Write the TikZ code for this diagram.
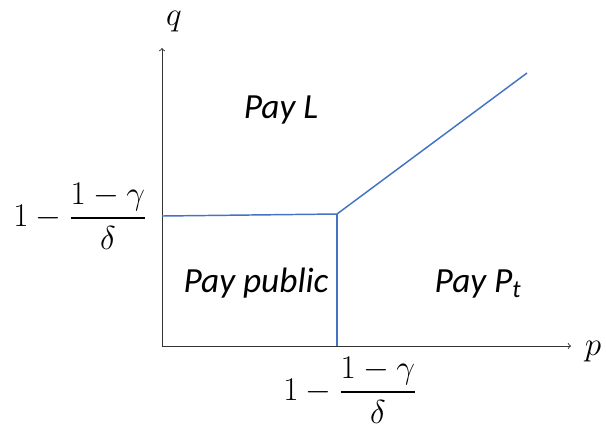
\documentclass[tikz,border=0pt]{standalone}
\usepackage{amsmath, amssymb}
\usepackage{fontspec}
\setmainfont{Carlito}
\usepackage{tikz}
\usetikzlibrary{calc, positioning}
\definecolor{lineblue}{HTML}{4472C4}
\tikzset{
  axis/.style={draw=black!80, line width=0.7pt, -to},
  border/.style={draw=lineblue, line width=1.1pt},
  region/.style={font=\fontsize{26.5}{30}\selectfont\itshape, inner sep=0pt},
  mlabel/.style={font=\fontsize{29}{33}\selectfont, inner sep=0pt}
}
\begin{document}
\begin{tikzpicture}[x=0.75pt, y=-0.75pt]
                \useasboundingbox (0,0) rectangle (606,430);
                % axes
                \coordinate (O) at (162,346);
                \coordinate (Qtop) at (162,48);
                \coordinate (Pend) at (571,346);
                \draw[axis] (O) -- (Qtop);
                \draw[axis] (O) -- (Pend);
                \node[mlabel] (q) at (174,22) {$q$};
                \node[mlabel] (p) at (593,352) {$p$};
                % boundaries
                \coordinate (A) at (162,216);
                \coordinate (K) at (337,214);
                \coordinate (B) at (337,346);
                \coordinate (E) at (527,73);
                \draw[border] (A) -- (K) -- (E);
                \draw[border] (K) -- (B);
                % threshold labels
                \node[mlabel] (qbar) at (80,216) {$1-\dfrac{1-\gamma}{\delta}$};
                \node[mlabel] (pbar) at (350,390) {$1-\dfrac{1-\gamma}{\delta}$};
                % regions
                \node[region] (payL) at (281,110) {Pay L};
                \node[region] (paypub) at (256,283) {Pay public};
                \node[region] (payP) at (478,284) {Pay P\textsubscript{\itshape t}};
            \end{tikzpicture}
\end{document}
